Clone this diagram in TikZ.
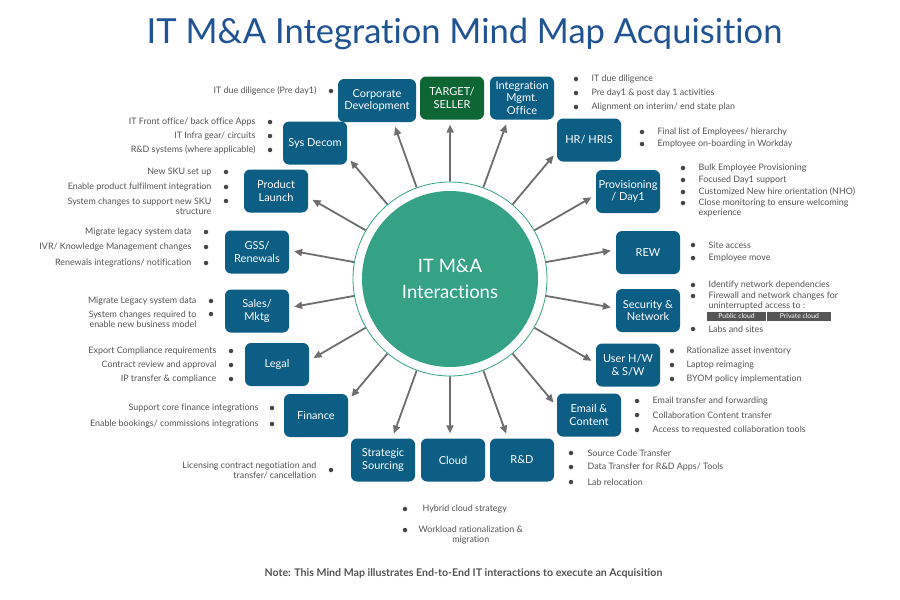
\documentclass[tikz,border=0pt]{standalone}
\usepackage{fontspec}
\setmainfont{Lato}[Ligatures=NoCommon]
\usetikzlibrary{arrows.meta,positioning}

\definecolor{titleblue}{RGB}{31,83,148}
\definecolor{boxblue}{RGB}{12,94,133}
\definecolor{boxgreen}{RGB}{14,102,52}
\definecolor{hubteal}{RGB}{53,162,136}
\definecolor{arrgray}{RGB}{110,110,110}
\definecolor{notegray}{RGB}{85,85,85}
\definecolor{dotgray}{RGB}{70,70,70}
\definecolor{taggray}{RGB}{85,85,85}

\begin{document}
\begin{tikzpicture}[
    x=1pt, y=-1pt,
    box/.style={rectangle, rounded corners=6pt, fill=boxblue, text=white,
        font=\fontsize{11}{12.5}\selectfont, align=center,
        minimum width=64pt, minimum height=43pt, inner sep=2pt},
    arr/.style={draw=arrgray, line width=1.8pt,
        -{Triangle[length=8pt,width=7pt]}, shorten >=5pt},
    dot/.style={circle, fill=dotgray, inner sep=0pt, minimum size=4.5pt},
    note/.style={text=notegray, font=\fontsize{8.9}{10}\selectfont, inner sep=0pt},
    tag/.style={fill=taggray, text=white, font=\fontsize{6.8}{7}\selectfont,
        minimum height=9pt, inner sep=0pt}
]

    \path[use as bounding box, fill=white] (0,0) rectangle (900,600);

    % --- TITLE ---
    \node[anchor=base, text=titleblue, font=\fontsize{34.5}{38}\selectfont]
        (title) at (464.5,43) {IT M\&A Integration Mind Map Acquisition};

    % --- HUB ---
    \node[circle, draw=hubteal, line width=0.8pt, minimum size=194pt, inner sep=0pt]
        (hub) at (450,279) {};
    \node[circle, fill=hubteal, minimum size=176pt, text=white, align=center,
        font=\fontsize{18.5}{26}\selectfont] (core) at (450,279) {IT M\&A\\Interactions};

    % --- BOXES ---
    \node[box, minimum width=78pt] (corpdev) at (377,100.5) {Corporate\\Development};
    \node[box, fill=boxgreen] (target) at (452,98) {TARGET/\\SELLER};
    \node[box] (imo) at (522,98) {Integration\\Mgmt.\\Office};
    \node[box] (sysdecom) at (315,143) {Sys Decom};
    \node[box] (hr) at (589,140) {HR/ HRIS};
    \node[box] (launch) at (276,191) {Product\\Launch};
    \node[box] (prov) at (628,191.5) {Provisioning\\/ Day1};
    \node[box] (gss) at (257,252) {GSS/\\Renewals};
    \node[box] (rew) at (648,252.5) {REW};
    \node[box] (sales) at (257,311) {Sales/\\Mktg};
    \node[box] (secnet) at (648,310.5) {Security \&\\Network};
    \node[box] (legal) at (277,364.5) {Legal};
    \node[box] (userhw) at (628,365) {User H/W\\\& S/W};
    \node[box] (finance) at (316,415.5) {Finance};
    \node[box] (email) at (589,415) {Email \&\\Content};
    \node[box] (sourcing) at (383,460) {Strategic\\Sourcing};
    \node[box] (cloud) at (453,460) {Cloud};
    \node[box] (rnd) at (522,460) {R\&D};

    % radial arrows, every 20 degrees
    \foreach \a/\to in {90/target.-95, 70/imo.-123, 50/hr.-160, 30/prov.-174,
        10/rew.175, -10/secnet.176, -30/userhw.177, -50/email.165,
        -70/rnd.123, -90/cloud.98, -110/sourcing.67, -130/finance.25,
        -150/legal.7, -170/sales.6, 170/gss.3, 150/launch.-11,
        130/sysdecom.-23, 110/corpdev.-53}
        \draw[arr] (hub.\a) -- (\to);

    % --- LEFT NOTES ---
    \node[dot] (cd1) at (331,91) {};
    \node[note, left=12pt of cd1] (cdt1) {IT due diligence (Pre day1)};

    \foreach \y/\t [count=\i] in {122/{IT Front office/ back office Apps},
        136/{IT Infra gear/ circuits}, 150/{R\&D systems (where applicable)}} {
        \node[dot] (sd\i) at (270,\y) {};
        \node[note, left=12pt of sd\i] (sdt\i) {\t};
    }

    \foreach \y/\t [count=\i] in {172/{New SKU set up},
        187/{Enable product fulfilment integration}} {
        \node[dot] (pl\i) at (226,\y) {};
        \node[note, left=12pt of pl\i] (plt\i) {\t};
    }
    \node[dot] (pl3) at (226,201) {};
    \node[note, left=12pt of pl3, yshift=-5pt, align=right] (plt3)
        {System changes to support new SKU\\structure};

    \foreach \y/\t [count=\i] in {232/{Migrate legacy system data},
        247/{IVR/ Knowledge Management changes},
        263/{Renewals integrations/ notification}} {
        \node[dot] (gs\i) at (206,\y) {};
        \node[note, left=12pt of gs\i] (gst\i) {\t};
    }

    \node[dot] (sm1) at (211,301) {};
    \node[note, left=12pt of sm1] (smt1) {Migrate Legacy system data};
    \node[dot] (sm2) at (211,314) {};
    \node[note, left=12pt of sm2, yshift=-5pt, align=right] (smt2)
        {System changes required to\\enable new business model};

    \foreach \y/\t [count=\i] in {351/{Export Compliance requirements},
        365/{Contract review and approval}, 379/{IP transfer \& compliance}} {
        \node[dot] (lg\i) at (231,\y) {};
        \node[note, left=12pt of lg\i] (lgt\i) {\t};
    }

    \foreach \y/\t [count=\i] in {408/{Support core finance integrations},
        424/{Enable bookings/ commissions integrations}} {
        \node[dot] (fn\i) at (272,\y) {};
        \node[note, left=11pt of fn\i] (fnt\i) {\t};
    }

    \node[dot] (ss1) at (331,470) {};
    \node[note, left=12pt of ss1, align=right] (sst1)
        {Licensing contract negotiation and\\transfer/ cancellation};

    % --- RIGHT NOTES ---
    \foreach \y/\t [count=\i] in {79/{IT due diligence},
        93/{Pre day1 \& post day 1 activities},
        107/{Alignment on interim/ end state plan}} {
        \node[dot] (im\i) at (576,\y) {};
        \node[note, right=13pt of im\i] (imt\i) {\t};
    }

    \foreach \y/\t [count=\i] in {132/{Final list of Employees/ hierarchy},
        144/{Employee on-boarding in Workday}} {
        \node[dot] (hr\i) at (642,\y) {};
        \node[note, right=13pt of hr\i] (hrt\i) {\t};
    }

    \foreach \y/\t [count=\i] in {168/{Bulk Employee Provisioning},
        180/{Focused Day1 support}, 192/{Customized New hire orientation (NHO)}} {
        \node[dot] (pv\i) at (683,\y) {};
        \node[note, right=13pt of pv\i] (pvt\i) {\t};
    }
    \node[dot] (pv4) at (683,203) {};
    \node[note, right=13pt of pv4, yshift=-5pt, align=left] (pvt4)
        {Close monitoring to ensure welcoming\\experience};

    \foreach \y/\t [count=\i] in {245/{Site access}, 258/{Employee move}} {
        \node[dot] (rw\i) at (693,\y) {};
        \node[note, right=13pt of rw\i] (rwt\i) {\t};
    }

    \node[dot] (sn1) at (693,285) {};
    \node[note, right=13pt of sn1] (snt1) {Identify network dependencies};
    \node[dot] (sn2) at (693,296) {};
    \node[note, right=13pt of sn2, yshift=-5pt, align=left] (snt2)
        {Firewall and network changes for\\uninterrupted access to :};
    \node[tag, minimum width=59pt] (pubcloud) at (736.5,316) {Public cloud};
    \node[tag, minimum width=64pt, right=1pt of pubcloud] (privcloud) {Private cloud};
    \node[dot] (sn3) at (693,329) {};
    \node[note, right=13pt of sn3] (snt3) {Labs and sites};

    \foreach \y/\t [count=\i] in {351/{Rationalize asset inventory},
        365/{Laptop reimaging}, 379/{BYOM policy implementation}} {
        \node[dot] (uh\i) at (672,\y) {};
        \node[note, right=12pt of uh\i] (uht\i) {\t};
    }

    \foreach \y/\t [count=\i] in {401/{Email transfer and forwarding},
        415/{Collaboration Content transfer},
        430/{Access to requested collaboration tools}} {
        \node[dot] (em\i) at (637,\y) {};
        \node[note, right=13pt of em\i] (emt\i) {\t};
    }

    \foreach \y/\t [count=\i] in {453/{Source Code Transfer},
        467/{Data Transfer for R\&D Apps/ Tools}, 482/{Lab relocation}} {
        \node[dot] (rd\i) at (571,\y) {};
        \node[note, right=14pt of rd\i] (rdt\i) {\t};
    }

    % --- CLOUD NOTES ---
    \node[dot] (cl1) at (405,509) {};
    \node[note, right=15pt of cl1] (clt1) {Hybrid cloud strategy};
    \node[dot] (cl2) at (405,530) {};
    \node[note, right=11pt of cl2, yshift=-5pt, align=center] (clt2)
        {Workload rationalization \&\\migration};

    % --- NOTE ---
    \node[anchor=base, text=notegray, font=\fontsize{10.6}{12}\selectfont\bfseries]
        (footer) at (463.5,576)
        {Note: This Mind Map illustrates End-to-End IT interactions to execute an Acquisition};

\end{tikzpicture}
\end{document}
